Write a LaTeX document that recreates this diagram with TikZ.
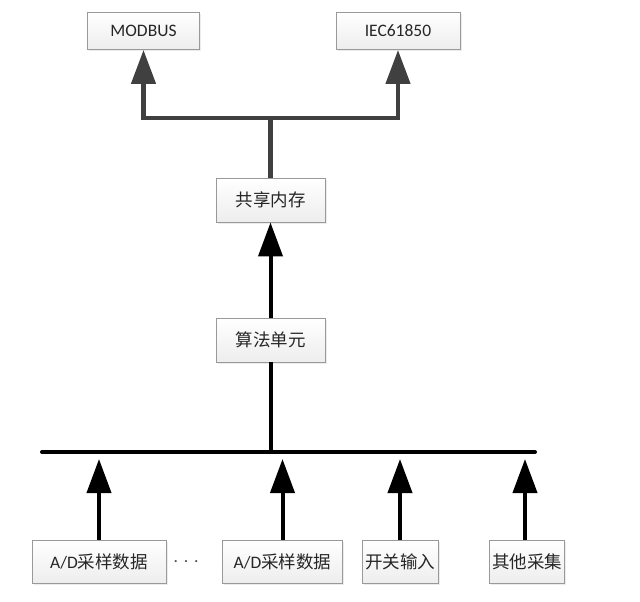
\documentclass[tikz,border=0pt]{standalone}
\usepackage{fontspec}
\setmainfont{Carlito}
\newfontfamily\cjk{Noto Sans CJK SC}
\usetikzlibrary{arrows.meta, positioning, calc, shadows}

\begin{document}
\begin{tikzpicture}[x=1pt, y=-1pt,
    >={Triangle[width=24pt, length=34pt]},
    blk/.style={draw=gray!80, line width=0.9pt, top color=white, bottom color=gray!14,
      drop shadow={shadow xshift=1.5pt, shadow yshift=-1.5pt, fill=gray!30},
      inner sep=0pt, font=\fontsize{17.5}{18}\selectfont, text=black!85},
    link/.style={line width=4pt, black},
    uplink/.style={line width=4.5pt, black!75}]
    \useasboundingbox (0,0) rectangle (640,602);

    % protocols
    \node[blk, minimum width=112pt, minimum height=37pt] (modbus) at (143.5,31) {MODBUS};
    \node[blk, minimum width=124pt, minimum height=37pt] (iec) at (398,31) {IEC61850};

    % shared memory and algorithm unit
    \node[blk, minimum width=109pt, minimum height=44pt] (mem) at (270.5,200) {\cjk 共享内存};
    \node[blk, minimum width=109pt, minimum height=44pt] (alg) at (270.5,340) {\cjk 算法单元};

    \coordinate (split) at (270.5,118);
    \draw[uplink] (mem.north) -- (split);
    \draw[uplink, ->] (split) -| (modbus.south);
    \draw[uplink, ->] (split) -| (iec.south);
    \draw[link, ->] (alg.north) -- (mem.south);

    % data bus
    \coordinate (busL) at (42,452);
    \coordinate (busR) at (535,452);
    \coordinate (tips) at (0,459);
    \draw[link, line cap=round] (busL) -- (busR);
    \draw[link] (alg.south) -- (alg.south |- busL);

    % sampling inputs
    \node[blk, minimum width=134pt, minimum height=43pt] (ad1) at (99,562) {A/D\cjk 采样数据};
    \node[text=black!70, font=\fontsize{17.5}{18}\selectfont] (dots) at (186,562) {.\,\,.\,\,.};
    \node[blk, minimum width=120pt, minimum height=43pt] (ad2) at (282.5,562) {A/D\cjk 采样数据};
    \node[blk, minimum width=76pt, minimum height=43pt] (sw) at (400,562) {\cjk 开关输入};
    \node[blk, minimum width=75pt, minimum height=43pt] (other) at (527,562) {\cjk 其他采集};

    \foreach \n in {ad1, ad2, sw}
      \draw[link, ->] (\n.north) -- (\n.north |- tips);
    \draw[link, ->] ([xshift=-2pt]other.north) -- ([xshift=-2pt]other.north |- tips);
\end{tikzpicture}
\end{document}
